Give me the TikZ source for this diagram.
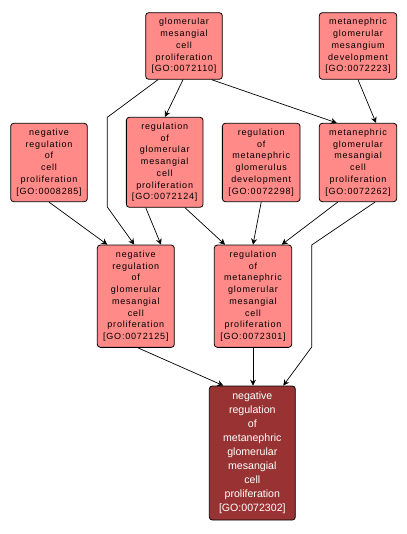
\documentclass[tikz,border=0pt]{standalone}
\usepackage{fontspec}
\setmainfont{Liberation Sans}
\newfontfamily\lightfont[LetterSpace=9]{Liberation Sans}
\usetikzlibrary{arrows.meta,calc}
\definecolor{lightnode}{HTML}{FF8A88}
\definecolor{darknode}{HTML}{993333}
\tikzset{
  gobox/.style={draw=black, line width=0.8pt, rounded corners=3pt, fill=lightnode,
    inner sep=0pt, align=center, text=black,
    font=\lightfont\fontsize{9}{11.7}\selectfont},
  gotarget/.style={draw=black, line width=0.8pt, rounded corners=3pt, fill=darknode,
    inner sep=0pt, align=center, text=white,
    font=\fontsize{10.6}{14}\selectfont},
  edge/.style={draw=black, line width=0.7pt, -{Stealth[length=6pt,width=6pt,inset=2pt]}}
}
\begin{document}
\begin{tikzpicture}[x=1pt,y=-1pt]
\useasboundingbox (0,0) rectangle (406,534);
\fill[white] (0,0) rectangle (406,534);

\node[gobox, minimum width=76.6pt, minimum height=66.6pt] (A) at (184,46)
  {glomerular\\mesangial\\cell\\proliferation\\{[GO:0072110]}};
\node[gobox, minimum width=77.4pt, minimum height=66.6pt] (B) at (358,46)
  {metanephric\\glomerular\\mesangium\\development\\{[GO:0072223]}};
\node[gobox, minimum width=76.6pt, minimum height=78.4pt] (C) at (49,162.5)
  {negative\\regulation\\of\\cell\\proliferation\\{[GO:0008285]}};
\node[gobox, minimum width=76.7pt, minimum height=90pt] (D) at (164.7,162.3)
  {regulation\\of\\glomerular\\mesangial\\cell\\proliferation\\{[GO:0072124]}};
\node[gobox, minimum width=77.7pt, minimum height=78.4pt] (E) at (261.2,162.5)
  {regulation\\of\\metanephric\\glomerulus\\development\\{[GO:0072298]}};
\node[gobox, minimum width=77.4pt, minimum height=78.4pt] (F) at (358,162.5)
  {metanephric\\glomerular\\mesangial\\cell\\proliferation\\{[GO:0072262]}};
\node[gobox, minimum width=77pt, minimum height=102.3pt] (G) at (135.8,296.2)
  {negative\\regulation\\of\\glomerular\\mesangial\\cell\\proliferation\\{[GO:0072125]}};
\node[gobox, minimum width=77.4pt, minimum height=102.3pt] (H) at (253,296.2)
  {regulation\\of\\metanephric\\glomerular\\mesangial\\cell\\proliferation\\{[GO:0072301]}};
\node[gotarget, minimum width=86pt, minimum height=134pt] (I) at (252.3,453)
  {negative\\regulation\\of\\metanephric\\glomerular\\mesangial\\cell\\proliferation\\{[GO:0072302]}};

\coordinate (ag1) at (107.3,117.3);
\coordinate (ag2) at (107.3,207);
\coordinate (fi1) at (311.7,245);
\coordinate (fi2) at (311.7,347);

\draw[edge] ([xshift=-1pt]A.south) -- ([xshift=0.3pt]D.north);
\draw[edge] ([xshift=27.7pt]A.south) -- ([xshift=-21.3pt]F.north);
\draw[edge] ([xshift=-26pt]A.south) -- (ag1) -- (ag2) -- ([xshift=-1.5pt]G.north);
\draw[edge] (B.south) -- ([xshift=18pt]F.north);
\draw[edge] (C.south) -- ([xshift=-28.5pt]G.north);
\draw[edge] ([xshift=-19pt]D.south) -- ([xshift=25.2pt]G.north);
\draw[edge] ([xshift=20.3pt]D.south) -- ([xshift=-28pt]H.north);
\draw[edge] (E.south) -- (H.north);
\draw[edge] ([xshift=-20.3pt]F.south) -- ([xshift=28.7pt]H.north);
\draw[edge] ([xshift=17pt]F.south) -- (fi1) -- (fi2) -- ([xshift=31pt]I.north);
\draw[edge] ([xshift=1.9pt]G.south) -- ([xshift=-29pt]I.north);
\draw[edge] (H.south) -- ([xshift=0.7pt]I.north);
\end{tikzpicture}
\end{document}
